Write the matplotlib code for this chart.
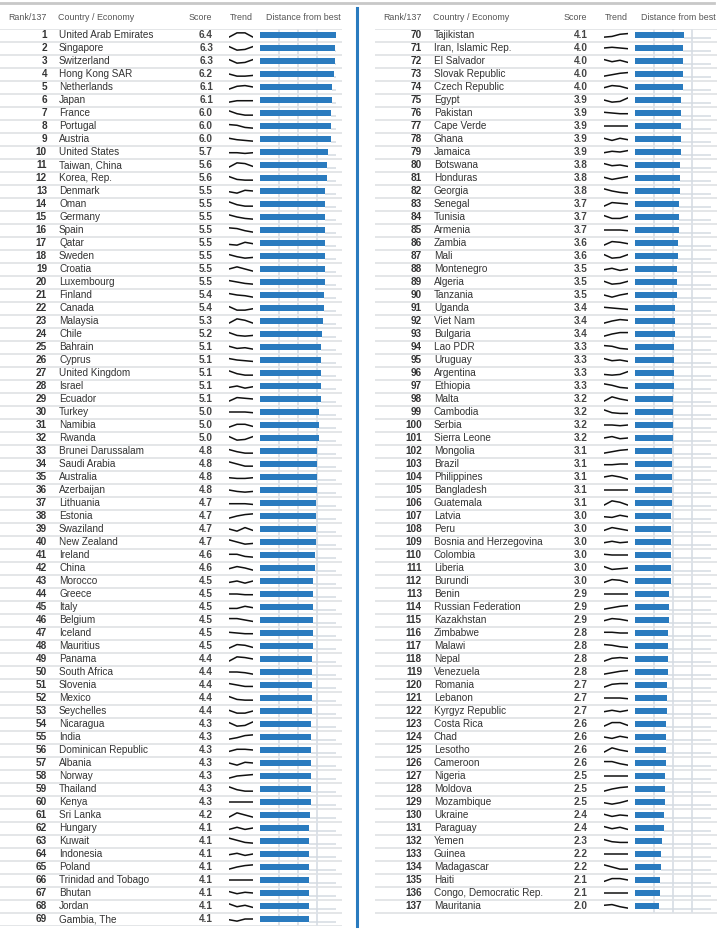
import numpy as np
import matplotlib
matplotlib.use("Agg")
from matplotlib import pyplot as plt
from matplotlib.lines import Line2D

plt.rcParams['font.family'] = ['Liberation Sans', 'DejaVu Sans']

countries = [
    "United Arab Emirates", "Singapore", "Switzerland", "Hong Kong SAR", "Netherlands",
    "Japan", "France", "Portugal", "Austria", "United States",
    "Taiwan, China", "Korea, Rep.", "Denmark", "Oman", "Germany",
    "Spain", "Qatar", "Sweden", "Croatia", "Luxembourg",
    "Finland", "Canada", "Malaysia", "Chile", "Bahrain",
    "Cyprus", "United Kingdom", "Israel", "Ecuador", "Turkey",
    "Namibia", "Rwanda", "Brunei Darussalam", "Saudi Arabia", "Australia",
    "Azerbaijan", "Lithuania", "Estonia", "Swaziland", "New Zealand",
    "Ireland", "China", "Morocco", "Greece", "Italy",
    "Belgium", "Iceland", "Mauritius", "Panama", "South Africa",
    "Slovenia", "Mexico", "Seychelles", "Nicaragua", "India",
    "Dominican Republic", "Albania", "Norway", "Thailand", "Kenya",
    "Sri Lanka", "Hungary", "Kuwait", "Indonesia", "Poland",
    "Trinidad and Tobago", "Bhutan", "Jordan", "Gambia, The",
    "Tajikistan", "Iran, Islamic Rep.", "El Salvador", "Slovak Republic", "Czech Republic",
    "Egypt", "Pakistan", "Cape Verde", "Ghana", "Jamaica",
    "Botswana", "Honduras", "Georgia", "Senegal", "Tunisia",
    "Armenia", "Zambia", "Mali", "Montenegro", "Algeria",
    "Tanzania", "Uganda", "Viet Nam", "Bulgaria", "Lao PDR",
    "Uruguay", "Argentina", "Ethiopia", "Malta", "Cambodia",
    "Serbia", "Sierra Leone", "Mongolia", "Brazil", "Philippines",
    "Bangladesh", "Guatemala", "Latvia", "Peru", "Bosnia and Herzegovina",
    "Colombia", "Liberia", "Burundi", "Benin", "Russian Federation",
    "Kazakhstan", "Zimbabwe", "Malawi", "Nepal", "Venezuela",
    "Romania", "Lebanon", "Kyrgyz Republic", "Costa Rica", "Chad",
    "Lesotho", "Cameroon", "Nigeria", "Moldova", "Mozambique",
    "Ukraine", "Paraguay", "Yemen", "Guinea", "Madagascar",
    "Haiti", "Congo, Democratic Rep.", "Mauritania",
]

scores = [
    6.4, 6.3, 6.3, 6.2, 6.1, 6.1, 6.0, 6.0, 6.0, 5.7,
    5.6, 5.6, 5.5, 5.5, 5.5, 5.5, 5.5, 5.5, 5.5, 5.5,
    5.4, 5.4, 5.3, 5.2, 5.1, 5.1, 5.1, 5.1, 5.1, 5.0,
    5.0, 5.0, 4.8, 4.8, 4.8, 4.8, 4.7, 4.7, 4.7, 4.7,
    4.6, 4.6, 4.5, 4.5, 4.5, 4.5, 4.5, 4.5, 4.4, 4.4,
    4.4, 4.4, 4.4, 4.3, 4.3, 4.3, 4.3, 4.3, 4.3, 4.3,
    4.2, 4.1, 4.1, 4.1, 4.1, 4.1, 4.1, 4.1, 4.1,
    4.1, 4.0, 4.0, 4.0, 4.0, 3.9, 3.9, 3.9, 3.9, 3.9,
    3.8, 3.8, 3.8, 3.7, 3.7, 3.7, 3.6, 3.6, 3.5, 3.5,
    3.5, 3.4, 3.4, 3.4, 3.3, 3.3, 3.3, 3.3, 3.2, 3.2,
    3.2, 3.2, 3.1, 3.1, 3.1, 3.1, 3.1, 3.0, 3.0, 3.0,
    3.0, 3.0, 3.0, 2.9, 2.9, 2.9, 2.8, 2.8, 2.8, 2.8,
    2.7, 2.7, 2.7, 2.6, 2.6, 2.6, 2.6, 2.5, 2.5, 2.5,
    2.4, 2.4, 2.3, 2.2, 2.2, 2.1, 2.1, 2.0,
]

# rough shape of each little trend sparkline (4 points, higher = up)
trends = [
    [0, .6, .6, 0], [.5, 0, .1, .5], [.5, 0, .1, .5], [.3, 0, 0, .1], [0, .4, .5, .3],
    [0, .2, .2, .2], [.6, .2, 0, 0], [.5, .4, .1, 0], [.4, .2, .1, 0], [.2, .2, .1, .2],
    [0, .6, .5, .1], [.5, .1, 0, 0], [.2, 0, .4, .3], [.6, .2, 0, 0], [.6, .3, .1, 0],
    [.6, .5, .2, 0], [.1, 0, .4, .2], [.5, .2, 0, .1], [.3, .6, .3, 0], [.5, .3, .1, 0],
    [.5, .3, .2, 0], [.5, 0, 0, .2], [0, .6, .4, 0], [.5, .1, 0, .1], [.4, .1, .2, 0],
    [.5, .3, .2, .1], [.6, .2, 0, 0], [.1, .3, 0, .2], [0, .5, .4, .3], [.3, .3, .3, .2],
    [0, .4, .4, .1], [.5, 0, .1, .5], [.5, .2, 0, 0], [.6, .3, 0, 0], [.2, .1, .1, .2],
    [.3, .1, 0, .1], [.2, .2, .2, .1], [0, .3, .5, .6], [.3, 0, .5, .1], [.6, .3, 0, .1],
    [.4, .4, .1, 0], [.2, .5, .3, 0], [.1, .3, 0, .3], [.3, .3, .2, .2], [.1, .1, .4, .2],
    [.5, .5, .3, .1], [.4, .3, .2, .2], [0, .5, .4, .1], [0, .6, .5, .3], [.3, .3, .2, 0],
    [.5, .3, .1, .1], [.5, .1, 0, 0], [.4, 0, 0, .3], [.5, 0, .1, .6], [0, .2, .5, .6],
    [.1, .4, .4, .3], [.3, 0, .4, .3], [0, .3, .4, .5], [.6, .2, 0, 0], [.3, .3, .3, .3],
    [0, .6, .3, 0], [.1, .4, .1, .3], [.7, .4, .1, 0], [.2, .4, .1, .3], [0, .3, .5, .6],
    [.3, .3, .3, .3], [.5, .2, .4, .3], [.6, .2, .4, .1], [.2, 0, .3, .3],
    [0, .1, .4, .5], [.3, .4, .3, .2], [.5, .2, .4, .1], [0, .2, .4, .5], [.2, .5, .4, .1],
    [.3, 0, .1, .6], [.4, .3, .2, .2], [.3, .3, .3, .3], [.4, .1, .4, .2], [.2, .4, .3, .5],
    [.5, .2, .3, .1], [.4, .1, .3, .5], [.6, .3, .1, 0], [0, .5, .4, .3], [.5, .1, .1, .4],
    [.3, .3, .3, .2], [0, .5, .4, .2], [.5, 0, .1, .5], [.2, .4, .1, .3], [.4, 0, .1, .4],
    [.3, 0, .3, .5], [.4, .3, .2, .1], [0, .3, .5, .4], [0, .3, .5, .5], [.5, .4, .1, 0],
    [.5, .2, .3, .1], [.1, 0, .1, .5], [.6, .4, .1, 0], [0, .6, .3, .1], [.6, .2, .1, .1],
    [.3, .3, .2, .3], [.3, .5, .2, .3], [0, .2, .4, .5], [.2, .2, .3, .3], [.3, .5, .3, 0],
    [.3, .3, .3, .3], [0, .6, .4, 0], [.2, .1, .4, .2], [.1, .5, .3, .1], [.2, .4, .2, .3],
    [.4, .3, .3, .3], [.5, .1, .2, .3], [.1, .5, .4, .1], [.3, .3, .3, .3], [0, .2, .4, .5],
    [.2, .5, .4, .2], [.4, .4, .3, .3], [.5, .4, .2, .1], [0, .4, .5, .4], [0, .2, .4, .5],
    [0, .4, .5, .5], [.3, .3, .3, .2], [.2, .4, .2, .4], [0, .5, .5, .1], [.3, .1, .4, .2],
    [0, .6, .3, .1], [.5, .5, .2, 0], [.3, .3, .3, .3], [0, .3, .5, .6], [.2, 0, .2, .5],
    [.4, .1, .3, .2], [.5, .2, .4, .1], [.5, .2, .1, .1], [.3, .3, .3, .3], [.6, .3, 0, 0],
    [.1, .5, .5, .3], [.3, .3, .3, .3], [.4, .5, .2, 0],
]

headers = ["Rank/137", "Country / Economy", "Score", "Trend", "Distance from best"]
split_at = 69   # rows in the left half

# ---- look ----
W, H = 724, 934
bar_blue = "#2a7bbf"
txt = "#333333"
sep_grey = "#e4e6e8"
grid_grey = "#dde2e8"
row_h = 13.0
rows_top = 28.5
rows_bot = rows_top + split_at * row_h
best = max(scores)


def box(x0, y0, x1, y1):
    # pixel box (top-left origin) -> figure fraction rect
    return [x0 / W, 1 - y1 / H, (x1 - x0) / W, (y1 - y0) / H]


fig = plt.figure(figsize=(W / 100, H / 100), dpi=100)

ranks = list(range(1, len(countries) + 1))
halves = [(0, slice(0, split_at)), (375, slice(split_at, None))]

for off, sl in halves:
    names = countries[sl]
    vals = scores[sl]
    rks = ranks[sl]
    trs = trends[sl]
    n = len(names)
    rows = np.arange(n)

    # table text + separators
    ax = fig.add_axes(box(off - 6, rows_top, off + 345, rows_bot))
    ax.set_xlim(-6, 345)
    ax.set_ylim(split_at - 0.5, -0.5)
    ax.axis("off")
    ax.hlines(np.arange(-1, n) + 0.5, 0, 342, color=sep_grey, lw=1.4, zorder=0)
    for r in rows:
        ax.text(47, r, str(rks[r]), ha="right", va="center", fontsize=7.2,
                fontweight="bold", color=txt)
        ax.text(59, r, names[r], ha="left", va="center", fontsize=7.2, color=txt)
        ax.text(213, r, f"{vals[r]:.1f}", ha="right", va="center", fontsize=7.2,
                fontweight="bold", color="#444444")

    hy = -1.38
    hkw = dict(va="center", fontsize=6.4, color="#555555", clip_on=False)
    ax.text(47, hy, headers[0], ha="right", **hkw)
    ax.text(58, hy, headers[1], ha="left", **hkw)
    ax.text(212, hy, headers[2], ha="right", **hkw)
    ax.text(241, hy, headers[3], ha="center", **hkw)
    ax.text(266, hy, headers[4], ha="left", **hkw)

    # trend sparklines
    tax = fig.add_axes(box(off + 229, rows_top, off + 253, rows_bot))
    tax.set_xlim(0, 3)
    tax.set_ylim(split_at - 0.5, -0.5)
    tax.axis("off")
    for r in rows:
        tv = np.array(trs[r])
        tax.plot(np.arange(len(tv)), r - (tv - 0.3) * 0.55, color="#111111",
                 lw=1.1, solid_capstyle="round", solid_joinstyle="round")

    # bars: distance from best
    bax = fig.add_axes(box(off + 260, rows_top, off + 336, rows_bot))
    bax.set_xlim(0, best)
    bax.set_ylim(split_at - 0.5, -0.5)
    bax.axis("off")
    bax.vlines([best / 4, best / 2, best * 3 / 4], -0.5, n - 0.5, color=grid_grey,
               lw=1.4, zorder=0)
    bax.hlines(rows + 0.22, vals, best, color="#d5dbe2", lw=1.1, zorder=1)
    bax.barh(rows, vals, height=0.45, color=bar_blue, zorder=2)

# frame lines
fig.add_artist(Line2D([0, 714 / W], [1 - 2.5 / H] * 2, color="#c8c8c8", lw=2))
fig.add_artist(Line2D([357 / W] * 2, [1 - 8 / H, 1 - 926 / H], color=bar_blue, lw=2.2))

fig.savefig("out.png", dpi=100, facecolor="white")
